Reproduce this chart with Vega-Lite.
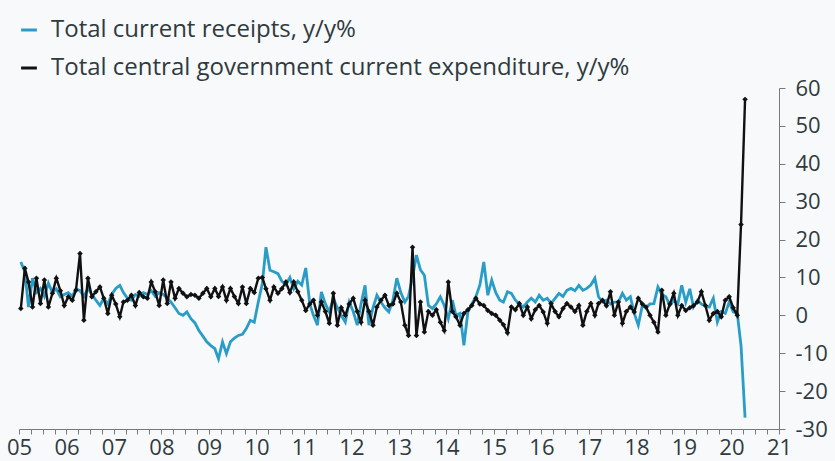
{
"$schema": "https://vega.github.io/schema/vega-lite/v6.json",
"width": 760, "height": 341,
"autosize": {"type": "none"},
"padding": {"left": 19, "top": 88, "right": 56, "bottom": 32},
"background": "#f8f9fb",
"config": {"view": {"stroke": null}, "font": "Open Sans"},
"data": {"values": [
{"month":"2005-01-15","receipts":14.1,"expenditure":1.8},{"month":"2005-02-15","receipts":11.5,"expenditure":12.4},{"month":"2005-03-15","receipts":2.2,"expenditure":8.8},{"month":"2005-04-15","receipts":9.8,"expenditure":2.2},{"month":"2005-05-15","receipts":6.0,"expenditure":9.8},{"month":"2005-06-15","receipts":7.1,"expenditure":3.1},{"month":"2005-07-15","receipts":5.0,"expenditure":9.3},{"month":"2005-08-15","receipts":8.5,"expenditure":2.2},{"month":"2005-09-15","receipts":6.0,"expenditure":5.8},{"month":"2005-10-15","receipts":7.0,"expenditure":9.8},{"month":"2005-11-15","receipts":4.9,"expenditure":6.5},{"month":"2005-12-15","receipts":5.5,"expenditure":2.6},
{"month":"2006-01-15","receipts":6.0,"expenditure":4.9},{"month":"2006-02-15","receipts":5.0,"expenditure":4.0},{"month":"2006-03-15","receipts":7.0,"expenditure":6.6},{"month":"2006-04-15","receipts":6.5,"expenditure":16.3},{"month":"2006-05-15","receipts":5.0,"expenditure":-1.3},{"month":"2006-06-15","receipts":7.1,"expenditure":9.8},{"month":"2006-07-15","receipts":5.5,"expenditure":4.9},{"month":"2006-08-15","receipts":4.0,"expenditure":6.2},{"month":"2006-09-15","receipts":2.6,"expenditure":7.5},{"month":"2006-10-15","receipts":4.5,"expenditure":4.5},{"month":"2006-11-15","receipts":3.0,"expenditure":0.5},{"month":"2006-12-15","receipts":5.5,"expenditure":5.3},
{"month":"2007-01-15","receipts":7.1,"expenditure":3.0},{"month":"2007-02-15","receipts":7.9,"expenditure":-0.4},{"month":"2007-03-15","receipts":6.0,"expenditure":3.5},{"month":"2007-04-15","receipts":4.5,"expenditure":4.0},{"month":"2007-05-15","receipts":4.0,"expenditure":5.3},{"month":"2007-06-15","receipts":5.5,"expenditure":2.6},{"month":"2007-07-15","receipts":5.0,"expenditure":6.0},{"month":"2007-08-15","receipts":6.0,"expenditure":4.9},{"month":"2007-09-15","receipts":5.5,"expenditure":4.5},{"month":"2007-10-15","receipts":6.5,"expenditure":8.8},{"month":"2007-11-15","receipts":5.0,"expenditure":6.2},{"month":"2007-12-15","receipts":6.0,"expenditure":2.6},
{"month":"2008-01-15","receipts":5.5,"expenditure":9.3},{"month":"2008-02-15","receipts":4.5,"expenditure":3.1},{"month":"2008-03-15","receipts":3.5,"expenditure":8.8},{"month":"2008-04-15","receipts":2.0,"expenditure":4.5},{"month":"2008-05-15","receipts":0.5,"expenditure":7.1},{"month":"2008-06-15","receipts":0.0,"expenditure":5.8},{"month":"2008-07-15","receipts":0.9,"expenditure":4.9},{"month":"2008-08-15","receipts":-0.9,"expenditure":5.5},{"month":"2008-09-15","receipts":-2.0,"expenditure":5.3},{"month":"2008-10-15","receipts":-4.0,"expenditure":4.5},{"month":"2008-11-15","receipts":-5.5,"expenditure":5.8},{"month":"2008-12-15","receipts":-7.0,"expenditure":7.1},
{"month":"2009-01-15","receipts":-8.0,"expenditure":4.9},{"month":"2009-02-15","receipts":-8.8,"expenditure":7.1},{"month":"2009-03-15","receipts":-11.5,"expenditure":5.0},{"month":"2009-04-15","receipts":-7.0,"expenditure":7.5},{"month":"2009-05-15","receipts":-10.1,"expenditure":4.0},{"month":"2009-06-15","receipts":-7.0,"expenditure":7.1},{"month":"2009-07-15","receipts":-6.0,"expenditure":5.0},{"month":"2009-08-15","receipts":-5.3,"expenditure":3.1},{"month":"2009-09-15","receipts":-5.0,"expenditure":7.5},{"month":"2009-10-15","receipts":-3.5,"expenditure":3.1},{"month":"2009-11-15","receipts":-1.3,"expenditure":7.1},{"month":"2009-12-15","receipts":-1.8,"expenditure":6.0},
{"month":"2010-01-15","receipts":3.5,"expenditure":9.8},{"month":"2010-02-15","receipts":8.4,"expenditure":10.0},{"month":"2010-03-15","receipts":18.0,"expenditure":7.0},{"month":"2010-04-15","receipts":11.9,"expenditure":4.0},{"month":"2010-05-15","receipts":11.5,"expenditure":7.5},{"month":"2010-06-15","receipts":11.0,"expenditure":5.8},{"month":"2010-07-15","receipts":9.0,"expenditure":7.0},{"month":"2010-08-15","receipts":8.0,"expenditure":8.8},{"month":"2010-09-15","receipts":10.0,"expenditure":6.0},{"month":"2010-10-15","receipts":7.0,"expenditure":8.8},{"month":"2010-11-15","receipts":9.0,"expenditure":6.2},{"month":"2010-12-15","receipts":8.0,"expenditure":4.0},
{"month":"2011-01-15","receipts":12.5,"expenditure":1.3},{"month":"2011-02-15","receipts":3.0,"expenditure":3.0},{"month":"2011-03-15","receipts":0.0,"expenditure":4.0},{"month":"2011-04-15","receipts":-2.6,"expenditure":0.0},{"month":"2011-05-15","receipts":6.2,"expenditure":3.5},{"month":"2011-06-15","receipts":3.0,"expenditure":1.0},{"month":"2011-07-15","receipts":0.9,"expenditure":-2.1},{"month":"2011-08-15","receipts":4.5,"expenditure":5.8},{"month":"2011-09-15","receipts":2.0,"expenditure":-2.6},{"month":"2011-10-15","receipts":0.0,"expenditure":2.0},{"month":"2011-11-15","receipts":-1.8,"expenditure":0.0},{"month":"2011-12-15","receipts":3.5,"expenditure":3.0},
{"month":"2012-01-15","receipts":1.0,"expenditure":4.5},{"month":"2012-02-15","receipts":-2.6,"expenditure":1.0},{"month":"2012-03-15","receipts":3.0,"expenditure":-1.8},{"month":"2012-04-15","receipts":7.9,"expenditure":4.0},{"month":"2012-05-15","receipts":-2.6,"expenditure":1.0},{"month":"2012-06-15","receipts":2.0,"expenditure":-2.6},{"month":"2012-07-15","receipts":5.3,"expenditure":2.2},{"month":"2012-08-15","receipts":3.5,"expenditure":4.0},{"month":"2012-09-15","receipts":2.0,"expenditure":5.3},{"month":"2012-10-15","receipts":0.9,"expenditure":2.6},{"month":"2012-11-15","receipts":4.0,"expenditure":3.0},{"month":"2012-12-15","receipts":9.8,"expenditure":5.8},
{"month":"2013-01-15","receipts":6.0,"expenditure":3.5},{"month":"2013-02-15","receipts":3.5,"expenditure":-2.6},{"month":"2013-03-15","receipts":5.0,"expenditure":-5.3},{"month":"2013-04-15","receipts":10.0,"expenditure":18.0},{"month":"2013-05-15","receipts":15.9,"expenditure":-5.3},{"month":"2013-06-15","receipts":12.0,"expenditure":3.5},{"month":"2013-07-15","receipts":10.6,"expenditure":-4.4},{"month":"2013-08-15","receipts":2.6,"expenditure":1.0},{"month":"2013-09-15","receipts":1.8,"expenditure":0.0},{"month":"2013-10-15","receipts":3.0,"expenditure":1.5},{"month":"2013-11-15","receipts":4.9,"expenditure":-1.8},{"month":"2013-12-15","receipts":2.6,"expenditure":-4.0},
{"month":"2014-01-15","receipts":-0.9,"expenditure":8.8},{"month":"2014-02-15","receipts":4.0,"expenditure":1.0},{"month":"2014-03-15","receipts":0.0,"expenditure":-0.4},{"month":"2014-04-15","receipts":0.5,"expenditure":-2.6},{"month":"2014-05-15","receipts":-7.9,"expenditure":0.5},{"month":"2014-06-15","receipts":0.9,"expenditure":1.5},{"month":"2014-07-15","receipts":3.0,"expenditure":2.6},{"month":"2014-08-15","receipts":4.9,"expenditure":4.5},{"month":"2014-09-15","receipts":8.0,"expenditure":3.0},{"month":"2014-10-15","receipts":14.1,"expenditure":2.6},{"month":"2014-11-15","receipts":5.3,"expenditure":1.3},{"month":"2014-12-15","receipts":9.3,"expenditure":0.5},
{"month":"2015-01-15","receipts":6.0,"expenditure":0.0},{"month":"2015-02-15","receipts":4.0,"expenditure":-1.3},{"month":"2015-03-15","receipts":3.5,"expenditure":-2.5},{"month":"2015-04-15","receipts":6.2,"expenditure":-4.6},{"month":"2015-05-15","receipts":5.8,"expenditure":2.2},{"month":"2015-06-15","receipts":4.0,"expenditure":1.5},{"month":"2015-07-15","receipts":3.0,"expenditure":3.1},{"month":"2015-08-15","receipts":2.2,"expenditure":0.0},{"month":"2015-09-15","receipts":3.5,"expenditure":2.2},{"month":"2015-10-15","receipts":4.5,"expenditure":-0.9},{"month":"2015-11-15","receipts":3.5,"expenditure":1.5},{"month":"2015-12-15","receipts":5.3,"expenditure":2.6},
{"month":"2016-01-15","receipts":4.0,"expenditure":0.9},{"month":"2016-02-15","receipts":4.5,"expenditure":-2.1},{"month":"2016-03-15","receipts":3.1,"expenditure":3.1},{"month":"2016-04-15","receipts":4.5,"expenditure":1.0},{"month":"2016-05-15","receipts":5.8,"expenditure":-0.4},{"month":"2016-06-15","receipts":5.0,"expenditure":1.8},{"month":"2016-07-15","receipts":6.6,"expenditure":3.1},{"month":"2016-08-15","receipts":7.1,"expenditure":2.2},{"month":"2016-09-15","receipts":6.5,"expenditure":1.0},{"month":"2016-10-15","receipts":7.9,"expenditure":2.6},{"month":"2016-11-15","receipts":6.6,"expenditure":-2.6},{"month":"2016-12-15","receipts":7.1,"expenditure":1.0},
{"month":"2017-01-15","receipts":8.0,"expenditure":3.1},{"month":"2017-02-15","receipts":9.8,"expenditure":0.0},{"month":"2017-03-15","receipts":4.9,"expenditure":3.1},{"month":"2017-04-15","receipts":3.5,"expenditure":4.0},{"month":"2017-05-15","receipts":4.0,"expenditure":2.5},{"month":"2017-06-15","receipts":3.0,"expenditure":6.2},{"month":"2017-07-15","receipts":3.5,"expenditure":0.0},{"month":"2017-08-15","receipts":3.5,"expenditure":3.5},{"month":"2017-09-15","receipts":5.8,"expenditure":-2.1},{"month":"2017-10-15","receipts":4.0,"expenditure":1.0},{"month":"2017-11-15","receipts":4.9,"expenditure":2.2},{"month":"2017-12-15","receipts":0.5,"expenditure":0.9},
{"month":"2018-01-15","receipts":-2.6,"expenditure":4.5},{"month":"2018-02-15","receipts":2.6,"expenditure":3.0},{"month":"2018-03-15","receipts":2.0,"expenditure":2.2},{"month":"2018-04-15","receipts":3.0,"expenditure":0.0},{"month":"2018-05-15","receipts":3.1,"expenditure":-1.8},{"month":"2018-06-15","receipts":7.5,"expenditure":-4.4},{"month":"2018-07-15","receipts":5.5,"expenditure":6.6},{"month":"2018-08-15","receipts":4.9,"expenditure":0.0},{"month":"2018-09-15","receipts":2.6,"expenditure":3.0},{"month":"2018-10-15","receipts":4.0,"expenditure":5.8},{"month":"2018-11-15","receipts":3.0,"expenditure":0.0},{"month":"2018-12-15","receipts":7.9,"expenditure":2.6},
{"month":"2019-01-15","receipts":3.5,"expenditure":1.3},{"month":"2019-02-15","receipts":7.0,"expenditure":2.0},{"month":"2019-03-15","receipts":2.2,"expenditure":2.5},{"month":"2019-04-15","receipts":4.0,"expenditure":3.5},{"month":"2019-05-15","receipts":3.0,"expenditure":6.2},{"month":"2019-06-15","receipts":2.5,"expenditure":2.6},{"month":"2019-07-15","receipts":2.2,"expenditure":-1.3},{"month":"2019-08-15","receipts":4.5,"expenditure":0.5},{"month":"2019-09-15","receipts":-1.8,"expenditure":1.0},{"month":"2019-10-15","receipts":1.0,"expenditure":-0.4},{"month":"2019-11-15","receipts":0.5,"expenditure":4.0},{"month":"2019-12-15","receipts":3.5,"expenditure":4.9},
{"month":"2020-01-15","receipts":0.9,"expenditure":2.0},{"month":"2020-02-15","receipts":0.5,"expenditure":0.0},{"month":"2020-03-15","receipts":-8.0,"expenditure":24.0},{"month":"2020-04-15","receipts":-27.0,"expenditure":57.0}
]},
"transform": [{"fold": ["receipts", "expenditure"], "as": ["series", "value"]}],
"encoding": {
  "x": {"field": "month", "type": "temporal",
    "scale": {"type": "utc", "domain": [{"year": 2005, "month": 1, "date": 1, "utc": true}, {"year": 2021, "month": 1, "date": 1, "utc": true}]},
    "axis": {"title": null, "grid": false, "tickCount": {"interval": "month", "step": 3},
      "labelExpr": "utcmonth(datum.value) == 0 ? utcFormat(datum.value, '%y') : ''",
      "domainColor": "#7a7a7a", "tickColor": "#7a7a7a", "tickSize": 5, "labelFontSize": 22, "labelColor": "#2f3b3f",
      "labelPadding": 3, "labelOverlap": false, "labelFlush": false, "labelBound": false}},
  "y": {"field": "value", "type": "quantitative",
      "scale": {"domain": [-30, 60], "nice": false},
      "axis": {"title": null, "orient": "right", "grid": false, "values": [-30, -20, -10, 0, 10, 20, 30, 40, 50, 60],
        "labelExpr": "toString(datum.value)", "domainColor": "#7a7a7a", "tickColor": "#7a7a7a", "tickSize": 6,
        "labelPadding": 10, "labelFontSize": 22, "labelColor": "#2f3b3f", "labelAlign": "left",
        "labelOverlap": false, "labelBound": false, "labelFlush": false}}
},
"layer": [
  {"transform": [{"filter": "datum.series === 'receipts'"}],
   "mark": {"type": "line", "strokeWidth": 2.8},
   "encoding": {
     "color": {"datum": "Total current receipts, y/y%", "type": "nominal",
       "scale": {"domain": ["Total current receipts, y/y%", "Total central government current expenditure, y/y%"], "range": ["#2a9cc8", "#111111"]},
       "legend": {"title": null, "orient": "none", "legendX": -2, "legendY": -70, "symbolType": "stroke", "symbolSize": 250, "symbolStrokeWidth": 3,
         "labelFontSize": 24, "labelColor": "#2f3b3f", "labelOffset": 10, "rowPadding": 14, "labelLimit": 800}}}},
  {"transform": [{"filter": "datum.series === 'expenditure'"}],
   "mark": {"type": "line", "strokeWidth": 2.4},
   "encoding": {"color": {"datum": "Total central government current expenditure, y/y%", "type": "nominal"}}},
  {"transform": [{"filter": "datum.series === 'expenditure'"}],
   "mark": {"type": "point", "shape": "diamond", "filled": true, "size": 30, "opacity": 1},
   "encoding": {"color": {"datum": "Total central government current expenditure, y/y%", "type": "nominal"}}}
]
}
